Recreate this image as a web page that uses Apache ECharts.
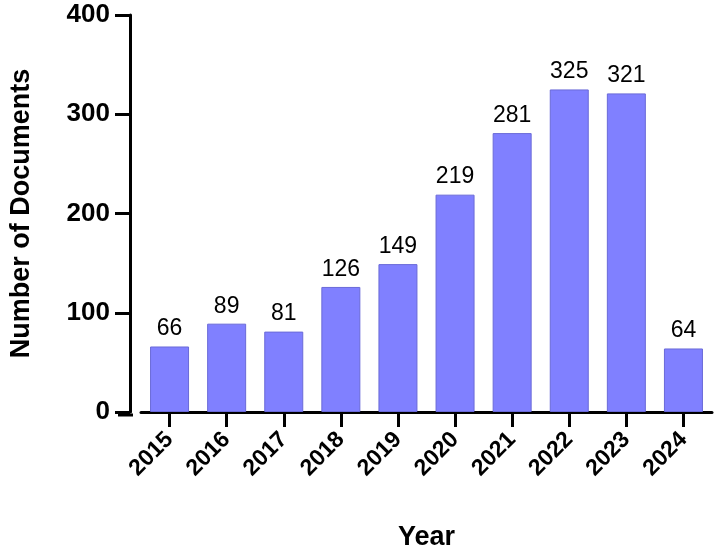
<!DOCTYPE html><html><head><meta charset="utf-8"><script src="https://cdn.jsdelivr.net/npm/echarts@6/dist/echarts.min.js"></script></head><body style="margin:0"><div id="c" style="width:725px;height:556px"></div><script>
const years=['2015','2016','2017','2018','2019','2020','2021','2022','2023','2024'];
const docs=[66,89,81,126,149,219,281,325,321,64];
const ch=echarts.init(document.getElementById('c'));
const F='Liberation Sans, Arial, sans-serif';
ch.setOption({
grid:{left:131,right:13,top:15,bottom:141},
graphic:[{type:'line',shape:{x1:118,y1:415,x2:133,y2:415},style:{stroke:'#000',lineWidth:3}}],
xAxis:{type:'category',data:years,name:'Year',nameLocation:'middle',nameGap:112,nameTextStyle:{fontFamily:F,fontWeight:'bold',fontSize:27,color:'#000'},
axisLine:{lineStyle:{color:'#000',width:3}},axisTick:{show:true,alignWithLabel:true,length:15,lineStyle:{width:3,color:'#000'}},
axisLabel:{show:true,rotate:45,fontFamily:F,fontWeight:'bold',fontSize:23,color:'#000',margin:24}},
yAxis:{type:'value',min:0,max:400,interval:100,offset:11,name:'Number of Documents',nameLocation:'middle',nameGap:95,nameTextStyle:{fontFamily:F,fontWeight:'bold',fontSize:27,color:'#000'},
axisLine:{show:true,lineStyle:{color:'#000',width:3}},axisTick:{show:true,length:15,lineStyle:{width:3,color:'#000'}},splitLine:{show:false},
axisLabel:{fontFamily:F,fontWeight:'bold',fontSize:26,color:'#000',margin:20}},
series:[{type:'bar',data:docs,barWidth:39,itemStyle:{color:'#8080ff',borderColor:'#6a6ad8',borderWidth:1},
label:{show:true,position:'top',fontFamily:F,fontSize:23,color:'#000',distance:6}}]
});
</script></body></html>
